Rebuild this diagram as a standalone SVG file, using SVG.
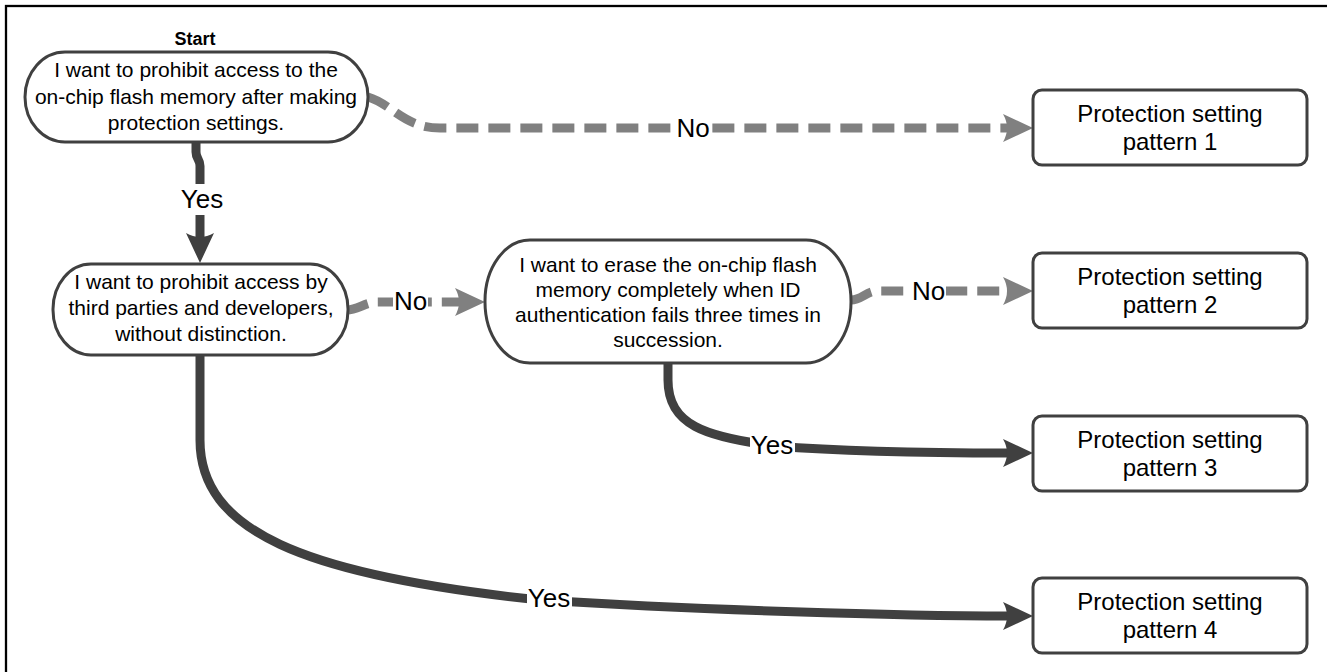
<svg xmlns="http://www.w3.org/2000/svg" width="1327" height="672" viewBox="0 0 1327 672">
<defs>
<style>
.frame{fill:none;stroke:#000;stroke-width:2.3}
.node{fill:#fff;stroke:#404040;stroke-width:3}
.t{font-family:"Liberation Sans",Arial,sans-serif;fill:#000;text-anchor:middle}
.nt{font-size:21px}
.pt{font-size:24px}
.lt{font-size:26px}
.st{font-size:18px;font-weight:bold}
.dark{fill:none;stroke:#404040;stroke-width:9}
.gray{fill:none;stroke:#808080;stroke-width:9;stroke-dasharray:22 10}
.lbg{fill:#fff}
</style>
<marker id="arrDark" viewBox="0 0 30 28" refX="6" refY="14" markerWidth="30" markerHeight="28" markerUnits="userSpaceOnUse" orient="auto">
<path d="M0,0 L30,14 L0,28 Q8,14 0,0 Z" fill="#404040"/>
</marker>
<marker id="arrGray" viewBox="0 0 30 28" refX="6" refY="14" markerWidth="30" markerHeight="28" markerUnits="userSpaceOnUse" orient="auto">
<path d="M0,0 L30,14 L0,28 Q8,14 0,0 Z" fill="#808080"/>
</marker>
</defs>
<rect width="1327" height="672" fill="#fff"/>
<rect class="frame" x="6" y="6" width="1330" height="680"/>

<g id="connectors">
<path class="gray" d="M368,97 C392,104 404,128 440,128 L1009,128" marker-end="url(#arrGray)"/>
<path class="dark" d="M196,141 L196,152 C196,159 200,159 200,166 L200,239" marker-end="url(#arrDark)"/>
<path class="gray" d="M347,310 C358,310 365,302 378,302 L461,302" marker-end="url(#arrGray)"/>
<path class="gray" d="M851,300 C862,300 866,291 878,291 L1009,291" marker-end="url(#arrGray)"/>
<path class="dark" d="M668,362 L668,380 C668,425 705,437 775,446 C850,452 950,453 1009,453" marker-end="url(#arrDark)"/>
<path class="dark" d="M200,354 L200,440 C200,530 300,575 540,600 C700,610 900,616 1009,616" marker-end="url(#arrDark)"/>
<g id="labels">
<rect class="lbg" x="676" y="113" width="34" height="30"/>
<text class="t lt" x="693" y="137">No</text>
<rect class="lbg" x="180" y="184" width="45" height="31"/>
<text class="t lt" x="202" y="208">Yes</text>
<rect class="lbg" x="393" y="286" width="35" height="30"/>
<text class="t lt" x="410.5" y="310">No</text>
<rect class="lbg" x="911" y="276" width="35" height="30"/>
<text class="t lt" x="928.5" y="300">No</text>
<rect class="lbg" x="750" y="430" width="45" height="30"/>
<text class="t lt" x="772" y="454">Yes</text>
<rect class="lbg" x="527" y="583" width="45" height="30"/>
<text class="t lt" x="549" y="607">Yes</text>
</g>
</g>

<g id="start">
<text class="t st" x="195" y="45">Start</text>
<rect class="node" x="25" y="52" width="343" height="90" rx="40" ry="45"/>
<text class="t nt" x="196" y="77">I want to prohibit access to the</text>
<text class="t nt" x="196" y="104">on-chip flash memory after making</text>
<text class="t nt" x="196" y="130">protection settings.</text>
</g>

<g id="q2">
<rect class="node" x="53" y="264" width="295" height="91" rx="38" ry="45"/>
<text class="t nt" x="201" y="289">I want to prohibit access by</text>
<text class="t nt" x="201" y="315">third parties and developers,</text>
<text class="t nt" x="201" y="341">without distinction.</text>
</g>

<g id="q3">
<rect class="node" x="485" y="240" width="366" height="123" rx="45" ry="61"/>
<text class="t nt" x="668" y="272">I want to erase the on-chip flash</text>
<text class="t nt" x="668" y="297">memory completely when ID</text>
<text class="t nt" x="668" y="322">authentication fails three times in</text>
<text class="t nt" x="668" y="347">succession.</text>
</g>

<g id="p1">
<rect class="node" x="1033" y="90" width="274" height="75" rx="9"/>
<text class="t pt" x="1170" y="122">Protection setting</text>
<text class="t pt" x="1170" y="150">pattern 1</text>
</g>
<g id="p2">
<rect class="node" x="1033" y="253" width="274" height="75" rx="9"/>
<text class="t pt" x="1170" y="285">Protection setting</text>
<text class="t pt" x="1170" y="313">pattern 2</text>
</g>
<g id="p3">
<rect class="node" x="1033" y="416" width="274" height="75" rx="9"/>
<text class="t pt" x="1170" y="448">Protection setting</text>
<text class="t pt" x="1170" y="476">pattern 3</text>
</g>
<g id="p4">
<rect class="node" x="1033" y="578" width="274" height="75" rx="9"/>
<text class="t pt" x="1170" y="610">Protection setting</text>
<text class="t pt" x="1170" y="638">pattern 4</text>
</g>
</svg>
